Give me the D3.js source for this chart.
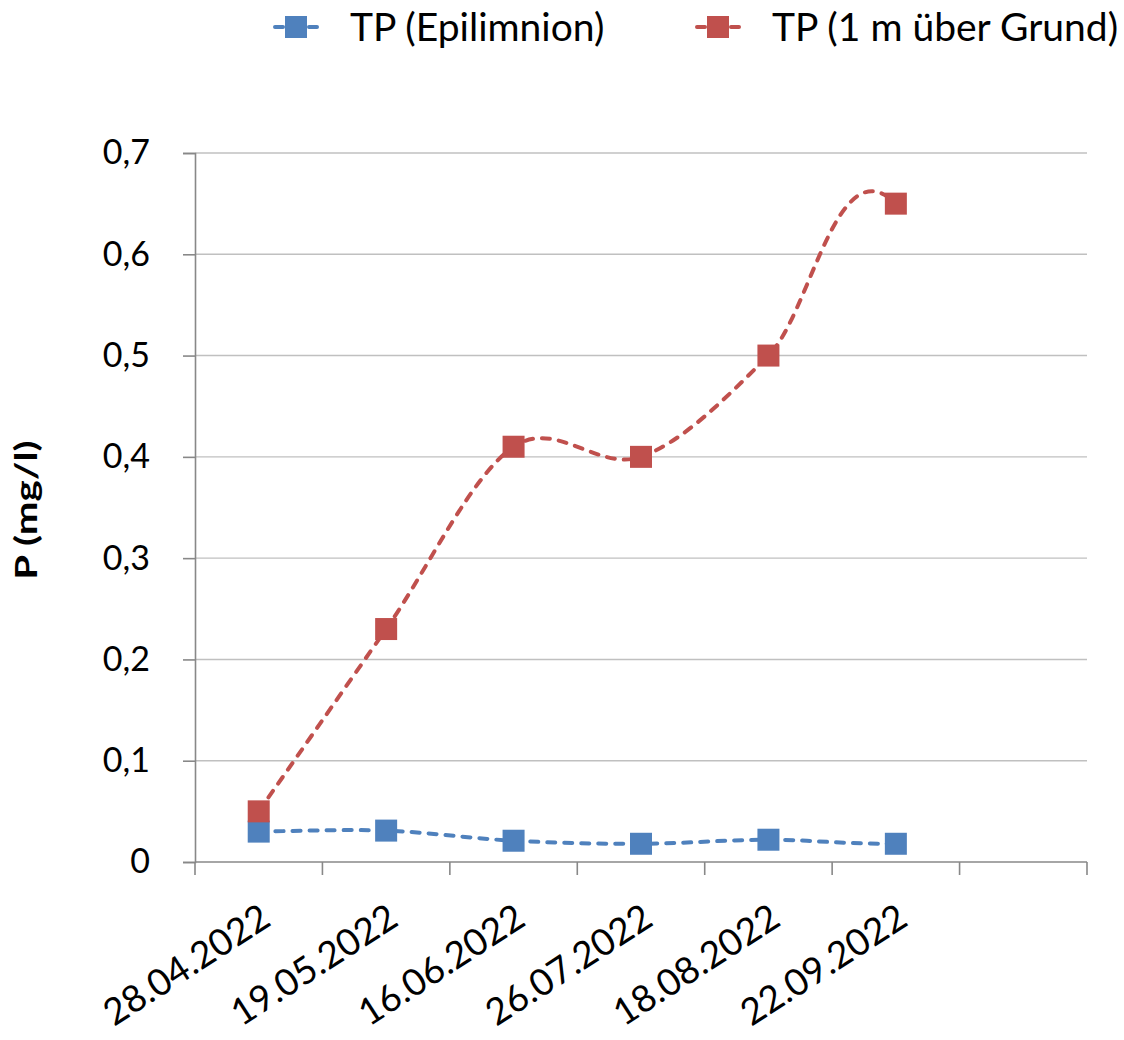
<!DOCTYPE html>
<html>
<head>
<meta charset="utf-8">
<script src="https://cdn.jsdelivr.net/npm/d3@7"></script>
<style>
  html, body { margin: 0; padding: 0; background: #fff; }
  svg { display: block; font-family: Lato, "Open Sans", "Liberation Sans", sans-serif; }
</style>
</head>
<body>
<script>
// Sampling dates (one empty slot at the end of the category axis)
const categories = ["28.04.2022", "19.05.2022", "16.06.2022", "26.07.2022", "18.08.2022", "22.09.2022", ""];
const tpEpilimnion = [0.03, 0.031, 0.021, 0.018, 0.022, 0.018];
const tpGrund = [0.05, 0.23, 0.41, 0.40, 0.50, 0.65];
const yTicks = [0, 0.1, 0.2, 0.3, 0.4, 0.5, 0.6, 0.7];
const seriesNames = ["TP (Epilimnion)", "TP (1 m über Grund)"];
const seriesColors = ["#4f81bd", "#c0504d"];

const W = 1124, H = 1040;
const margin = { left: 195, right: 37, top: 153, bottom: 178 };

const svg = d3.select("body").append("svg").attr("width", W).attr("height", H);

const x = d3.scaleBand().domain(d3.range(categories.length))
  .range([margin.left, W - margin.right]).paddingInner(0).paddingOuter(0);
const y = d3.scaleLinear().domain([0, 0.7]).range([H - margin.bottom, margin.top]);
const fmt = d => d === 0 ? "0" : d3.format(".1f")(d).replace(".", ",");

// Horizontal gridlines
svg.append("g").selectAll("line").data(yTicks.filter(d => d > 0)).join("line")
  .attr("x1", margin.left).attr("x2", W - margin.right)
  .attr("y1", d => y(d)).attr("y2", d => y(d))
  .attr("stroke", "#c0c0c0").attr("stroke-width", 1.4);

// Y axis
const yAxis = svg.append("g").attr("transform", `translate(${margin.left},0)`)
  .call(d3.axisLeft(y).tickValues(yTicks).tickSize(12).tickPadding(33).tickFormat(fmt));
yAxis.select(".domain").attr("stroke", "#888").attr("stroke-width", 1.6);
yAxis.selectAll(".tick line").attr("stroke", "#888").attr("stroke-width", 1.6);
yAxis.selectAll("text").attr("font-size", 34).attr("fill", "#000")
  .attr("font-family", "Lato, 'Open Sans', sans-serif");

// X axis with ticks between categories
const xAxisG = svg.append("g").attr("transform", `translate(0,${y(0)})`);
xAxisG.append("line").attr("x1", margin.left).attr("x2", W - margin.right)
  .attr("stroke", "#888").attr("stroke-width", 1.6);
const bounds = d3.range(categories.length + 1).map(i =>
  i < categories.length ? x(i) : x(categories.length - 1) + x.bandwidth());
xAxisG.selectAll(".xt").data(bounds).join("line")
  .attr("x1", d => d).attr("x2", d => d).attr("y1", 0).attr("y2", 13)
  .attr("stroke", "#888").attr("stroke-width", 1.6);
xAxisG.selectAll(".xl").data(categories).join("text")
  .attr("transform", (d, i) => `translate(${x(i) + x.bandwidth() / 2 + 14},${62}) rotate(-33)`)
  .attr("text-anchor", "end")
  .attr("font-size", 37)
  .text(d => d);

// Y axis title
svg.append("text")
  .attr("transform", `translate(37,510) rotate(-90) scale(1.3,1)`)
  .attr("text-anchor", "middle").attr("font-size", 31).attr("font-weight", "bold")
  .text("P (mg/l)");

// Smoothed Bezier curve; the closing segment bends over into the last point
const curveSmooth = context => ({
  areaStart() {}, areaEnd() {},
  lineStart() { this._p = []; },
  point(px, py) { this._p.push([px, py]); },
  lineEnd() {
    const p = this._p, n = p.length;
    if (!n) return;
    context.moveTo(p[0][0], p[0][1]);
    for (let i = 0; i < n - 1; i++) {
      const a = p[i - 1] || p[i], b = p[i], c = p[i + 1], d = p[i + 2] || p[i + 1];
      const c1 = [b[0] + (c[0] - a[0]) / 6, b[1] + (c[1] - a[1]) / 6];
      let c2 = [c[0] - (d[0] - b[0]) / 6, c[1] - (d[1] - b[1]) / 6];
      if (i === n - 2 && n > 2) {
        c2 = [c[0] - 1.4 * (c1[0] - b[0]), c[1] + 1.4 * (c1[1] - b[1])];
      }
      context.bezierCurveTo(c1[0], c1[1], c2[0], c2[1], c[0], c[1]);
    }
  }
});

const line = d3.line()
  .x((d, i) => x(i) + x.bandwidth() / 2)
  .y(d => y(d))
  .curve(curveSmooth);

[tpEpilimnion, tpGrund].forEach((vals, s) => {
  const g = svg.append("g");
  g.append("path").datum(vals).attr("d", line)
    .attr("fill", "none").attr("stroke", seriesColors[s]).attr("stroke-width", 4)
    .attr("stroke-dasharray", "8 9").attr("stroke-linecap", "round");
  g.selectAll("rect").data(vals).join("rect")
    .attr("x", (d, i) => x(i) + x.bandwidth() / 2 - 11)
    .attr("y", d => y(d) - 11)
    .attr("width", 22).attr("height", 22)
    .attr("fill", seriesColors[s]);
});

// Legend
const legendX = [273, 695];
seriesNames.forEach((name, s) => {
  const g = svg.append("g").attr("transform", `translate(${legendX[s]},27)`);
  g.append("line").attr("x1", 2).attr("x2", 44)
    .attr("stroke", seriesColors[s]).attr("stroke-width", 4)
    .attr("stroke-dasharray", "8 9").attr("stroke-linecap", "round");
  g.append("rect").attr("x", 12).attr("y", -11).attr("width", 22).attr("height", 22)
    .attr("fill", seriesColors[s]);
  g.append("text").attr("x", 77).attr("y", 14).attr("font-size", 39).text(name);
});
</script>
</body>
</html>
